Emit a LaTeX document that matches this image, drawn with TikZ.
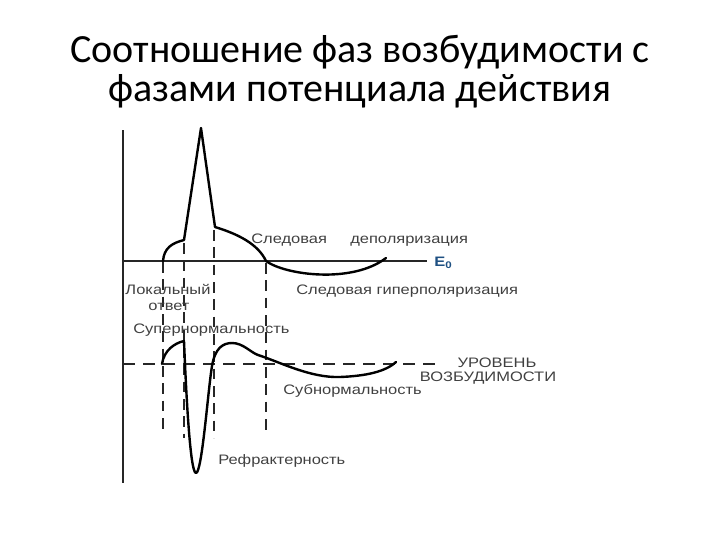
\documentclass[tikz,border=0pt]{standalone}
\usepackage{fontspec}
\setmainfont{Liberation Sans}
\newfontfamily\titlefont{Carlito}
\newfontfamily\lblfont[FakeStretch=1.2]{Liberation Sans}
\begin{document}
\begin{tikzpicture}[x=0.75pt,y=-0.75pt,
  curve/.style={line width=1.8pt,line join=round,line cap=round,black},
  axis/.style={line width=0.9pt,black!85},
  dashv/.style={line width=1.1pt,black!85,dash pattern=on 8pt off 5pt},
  dashh/.style={line width=1.1pt,black!85,dash pattern=on 9pt off 6pt},
  lbl/.style={font=\lblfont\fontsize{10.3}{11}\selectfont,text=black!75,inner sep=0pt},
  ttl/.style={font=\titlefont\fontsize{30}{36}\selectfont,inner sep=0pt}]
\useasboundingbox (0,0) rectangle (720,540);
% title
\node[ttl,anchor=base] (t1) at (360,62) {Соотношение фаз возбудимости с};
\node[ttl,anchor=base] (t2) at (360,101) {фазами потенциала действия};
% axes
\coordinate (ax0) at (123,130);
\coordinate (ax1) at (123,483);
\draw[axis] (ax0) -- (ax1);
\coordinate (e0a) at (123,261);
\coordinate (e0b) at (427,261);
\draw[axis] (e0a) -- (e0b);
\coordinate (lva) at (123,364);
\coordinate (lvb) at (442,364);
\draw[dashh] (lva) -- (lvb);
% vertical dashed lines
\draw[dashv] (163,262) -- (163,430);
\draw[dashv] (184,243) -- (184,438);
\draw[dashv] (214,230) -- (214,438);
\draw[dashv] (266,263) -- (266,430);
% action potential
\draw[curve] (163,261) .. controls (164,248) and (172,243) .. (184,240)
  -- (201,128) -- (215,227)
  .. controls (238,234) and (258,244) .. (266,261)
  .. controls (285,275) and (352,284) .. (386,258);
% excitability curve
\draw[curve] (162,364) .. controls (164,350) and (175,343) .. (184,341)
  .. controls (186,390) and (190,473) .. (196,473)
  .. controls (202,473) and (208,390) .. (212,366)
  .. controls (215,348) and (223,343) .. (232,343)
  .. controls (243,343) and (250,352) .. (258,355)
  .. controls (280,362) and (310,378) .. (340,377)
  .. controls (365,376) and (385,372) .. (396,362);
% labels
\node[lbl,anchor=base west] (l1) at (251,243) {Следовая};
\node[lbl,anchor=base west] (l2) at (350,243) {деполяризация};
\node[anchor=base west,inner sep=0pt,text={rgb,255:red,30;green,80;blue,130},font=\lblfont\fontsize{10.3}{11}\selectfont\bfseries] (e0) at (434,266) {E\textsubscript{0}};
\node[lbl,anchor=base west] (l3) at (296,294) {Следовая гиперполяризация};
\node[lbl,anchor=base] (l4) at (168,294) {Локальный};
\node[lbl,anchor=base] (l5) at (169,310) {ответ};
\node[lbl,anchor=base west] (l6) at (133,333) {Супернормальность};
\node[lbl,anchor=base] (l7) at (497,367) {УРОВЕНЬ};
\node[lbl,anchor=base] (l8) at (488,381) {ВОЗБУДИМОСТИ};
\node[lbl,anchor=base west] (l9) at (283,394) {Субнормальность};
\node[lbl,anchor=base west] (l10) at (218,464) {Рефрактерность};
\end{tikzpicture}
\end{document}
